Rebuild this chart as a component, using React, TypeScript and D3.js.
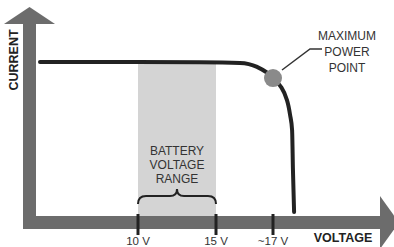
import { useEffect, useRef } from "react";
import * as d3 from "d3";

// I-V curve of a solar panel (voltage in V, current as a fraction of short-circuit current)
const curveVoltage = [0, 6, 13.97, 15.84, 16.44, 17, 17.49, 17.6, 17.67, 17.7, 17.74];
const curveCurrent = [1, 1, 0.998, 0.994, 0.968, 0.896, 0.753, 0.656, 0.558, 0.299, 0.026];

const tickVoltages = [10, 15, 17];
const tickLabels = ["10 V", "15 V", "~17 V"];
const batteryRange = [10, 15];
const mppVoltage = 17;
const mppCurrent = 0.896;
const mppLabel = ["MAXIMUM", "POWER", "POINT"];
const rangeLabel = ["BATTERY", "VOLTAGE", "RANGE"];

const App = () => {
  const svgRef = useRef<SVGSVGElement>(null);

  useEffect(() => {
    if (!svgRef.current) return;
    const svg = d3.select(svgRef.current);
    svg.selectAll("*").remove();

    const axisColor = "#6c6c6c";
    const ink = "#222";
    const font = "Liberation Sans, Arial, sans-serif";

    // the drawing is not to scale, so the voltage axis is piecewise linear
    const x = d3.scaleLinear().domain([0, 10, 15, 17]).range([40, 138, 216, 273]);
    const y = d3.scaleLinear().domain([0, 1]).range([216, 62]);

    // Battery voltage band
    svg
      .append("rect")
      .attr("x", x(batteryRange[0]))
      .attr("y", y(1))
      .attr("width", x(batteryRange[1]) - x(batteryRange[0]))
      .attr("height", y(0) - y(1))
      .attr("fill", "#d4d4d4");

    // Axes as thick arrows
    const ax0 = 23;
    const ay1 = 229;
    svg
      .append("rect")
      .attr("x", ax0)
      .attr("y", 22)
      .attr("width", 13)
      .attr("height", ay1 - 22)
      .attr("fill", axisColor);
    svg
      .append("path")
      .attr("d", `M4,24 L29.5,7 L55,24 Z`)
      .attr("fill", axisColor);
    svg
      .append("rect")
      .attr("x", ax0)
      .attr("y", 216)
      .attr("width", 382 - ax0)
      .attr("height", 13)
      .attr("fill", axisColor);
    svg
      .append("path")
      .attr("d", `M380,196 L399,222.5 L380,249 Z`)
      .attr("fill", axisColor);

    // Ticks
    svg
      .selectAll("line.tick")
      .data(tickVoltages)
      .join("line")
      .attr("class", "tick")
      .attr("x1", (d) => x(d))
      .attr("x2", (d) => x(d))
      .attr("y1", 214)
      .attr("y2", 235)
      .attr("stroke", ink)
      .attr("stroke-width", 3);

    svg
      .selectAll("text.ticklabel")
      .data(tickVoltages)
      .join("text")
      .attr("class", "ticklabel")
      .attr("x", (d) => x(d))
      .attr("y", 245)
      .attr("text-anchor", "middle")
      .attr("font-family", font)
      .attr("font-size", 11.5)
      .attr("fill", "#333")
      .text((_, i) => tickLabels[i]);

    // Brace under the range label
    const b0 = x(batteryRange[0]);
    const b1 = x(batteryRange[1]);
    const bm = (b0 + b1) / 2;
    svg
      .append("path")
      .attr(
        "d",
        `M${b0},204 Q${b0},196 ${b0 + 8},196 L${bm - 7},196 Q${bm},196 ${bm},189 Q${bm},196 ${bm + 7},196 L${b1 - 8},196 Q${b1},196 ${b1},204`
      )
      .attr("fill", "none")
      .attr("stroke", ink)
      .attr("stroke-width", 2);

    svg
      .selectAll("text.range")
      .data(rangeLabel)
      .join("text")
      .attr("class", "range")
      .attr("x", bm)
      .attr("y", (_, i) => 155 + i * 14)
      .attr("text-anchor", "middle")
      .attr("font-family", font)
      .attr("font-size", 12)
      .attr("fill", "#333")
      .text((d) => d);

    // I-V curve
    const pts = curveVoltage.map((v, i) => [v, curveCurrent[i]] as [number, number]);
    const line = d3
      .line<[number, number]>()
      .x((d) => x(d[0]))
      .y((d) => y(d[1]))
      .curve(d3.curveMonotoneX);
    svg
      .append("path")
      .attr("d", line(pts))
      .attr("fill", "none")
      .attr("stroke", ink)
      .attr("stroke-width", 4)
      .attr("stroke-linecap", "round");

    // Maximum power point + leader
    const mx = x(mppVoltage);
    const my = y(mppCurrent);
    svg
      .append("path")
      .attr("d", `M${mx + 9},${my - 8} L${mx + 37},${my - 29} L${mx + 49},${my - 29}`)
      .attr("fill", "none")
      .attr("stroke", "#333")
      .attr("stroke-width", 1.5);
    svg
      .append("circle")
      .attr("cx", mx)
      .attr("cy", my)
      .attr("r", 9)
      .attr("fill", "#8a8a8a");

    svg
      .selectAll("text.mpp")
      .data(mppLabel)
      .join("text")
      .attr("class", "mpp")
      .attr("x", 347)
      .attr("y", (_, i) => 40 + i * 16)
      .attr("text-anchor", "middle")
      .attr("font-family", font)
      .attr("font-size", 12)
      .attr("fill", "#333")
      .text((d) => d);

    // Axis titles
    svg
      .append("text")
      .attr("x", 343)
      .attr("y", 242)
      .attr("text-anchor", "middle")
      .attr("font-family", font)
      .attr("font-weight", "bold")
      .attr("font-size", 12.5)
      .attr("fill", ink)
      .text("VOLTAGE");
    svg
      .append("text")
      .attr("transform", "translate(18,60) rotate(-90)")
      .attr("text-anchor", "middle")
      .attr("font-family", font)
      .attr("font-weight", "bold")
      .attr("font-size", 12.5)
      .attr("fill", ink)
      .text("CURRENT");
  }, []);

  return (
    <svg
      ref={svgRef}
      width={394}
      height={247}
      style={{ position: "absolute", left: 0, top: 0, background: "#fff" }}
    />
  );
};

export default App;
